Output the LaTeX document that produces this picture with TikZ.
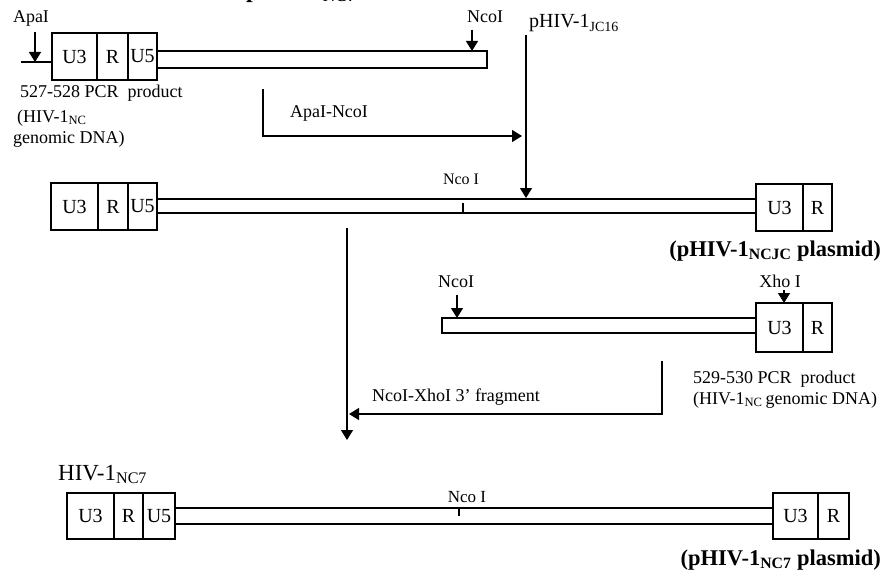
\documentclass[tikz,border=0pt]{standalone}
\usepackage{fontspec}
\setmainfont{Liberation Serif}
\usetikzlibrary{arrows.meta}
\tikzset{
  ln/.style={line width=1.4pt},
  tip/.style={ln,-{Triangle[width=12pt,length=10pt]}},
  cell/.style={draw,line width=1.4pt,inner sep=0pt,font=\fontsize{20}{22}\selectfont,minimum height=47pt},
  bar/.style={draw,line width=1.4pt,inner sep=0pt},
  lbl/.style={inner sep=0pt,font=\fontsize{18}{20}\selectfont},
  slbl/.style={inner sep=0pt,font=\fontsize{16}{18}\selectfont},
  big/.style={inner sep=0pt,font=\fontsize{20}{22}\selectfont},
  bigb/.style={inner sep=0pt,font=\fontsize{22.5}{25}\selectfont\bfseries}
}
\begin{document}
\begin{tikzpicture}[x=1pt,y=-1pt]
\useasboundingbox (0,0) rectangle (882,578);
% cut-off title at top edge
\node[inner sep=0pt,font=\fontsize{24}{26}\selectfont\bfseries,anchor=base west] (title) at (246,-2) {pHIV-1\textsubscript{NC7}};

% ---------- row 1: 527-528 PCR product ----------
\node[cell,minimum width=45pt] (a3) at (74.5,56.5) {U3};
\node[cell,minimum width=31pt] (ar) at (112.5,56.5) {R};
\node[cell,minimum width=29pt] (a5) at (142.5,56.5) {U5};
\node[bar,minimum width=330pt,minimum height=17pt] (abar) at (322,59.5) {};
\coordinate (astub) at (21,62);
\coordinate (aend) at (52,62);
\draw[ln] (astub) -- (aend);
\node[lbl] (apai) at (31,18) {ApaI};
\coordinate (apaitop) at (35,32);
\coordinate (apaitip) at (35,62);
\draw[tip] (apaitop) -- (apaitip);
\node[lbl] (nco1) at (485,17) {NcoI};
\coordinate (nco1top) at (472,30);
\coordinate (nco1tip) at (472,51);
\draw[tip] (nco1top) -- (nco1tip);
\node[lbl,anchor=base west] (pcr1) at (20,97) {527-528 PCR\ \ product};
\node[lbl,anchor=base west] (hiv1) at (17,122) {(HIV-1\textsubscript{NC}};
\node[lbl,anchor=base west] (gen1) at (13,143) {genomic DNA)};

% ApaI-NcoI arrow
\coordinate (an1) at (263,89);
\coordinate (an2) at (263,136);
\coordinate (an3) at (522,136);
\draw[tip] (an1) -- (an2) -- (an3);
\node[lbl] (apanco) at (329,113) {ApaI-NcoI};

% pHIV-1 JC16
\node[big,anchor=base west] (jc16) at (529,28) {pHIV-1\textsubscript{JC16}};
\coordinate (jctop) at (526,35);
\coordinate (jctip) at (526,198);
\draw[tip] (jctop) -- (jctip);

% ---------- row 2: pHIV-1 NCJC ----------
\node[cell,minimum width=47pt] (b3) at (74.5,206.5) {U3};
\node[cell,minimum width=30pt] (br) at (113,206.5) {R};
\node[cell,minimum width=29pt] (b5) at (142.5,206.5) {U5};
\node[bar,minimum width=599pt,minimum height=14pt] (bbar) at (456.5,206) {};
\node[cell,minimum width=47pt] (bu3) at (779.5,207.5) {U3};
\node[cell,minimum width=29pt] (bur) at (817.5,207.5) {R};
\node[slbl] (ncob) at (461,179) {Nco I};
\coordinate (tickb1) at (463,203);
\coordinate (tickb2) at (463,213);
\draw[ln] (tickb1) -- (tickb2);
\node[bigb,anchor=base east] (ncjc) at (881,256) {(pHIV-1\textsubscript{NCJC} plasmid)};

% down arrow to final
\coordinate (d1) at (347,228);
\coordinate (d2) at (347,440);
\draw[tip] (d1) -- (d2);

% ---------- row 3: 529-530 PCR product ----------
\node[bar,minimum width=314pt,minimum height=15pt] (cbar) at (599,325.5) {};
\node[cell,minimum width=47pt,minimum height=49pt] (cu3) at (779.5,327.5) {U3};
\node[cell,minimum width=29pt,minimum height=49pt] (cur) at (817.5,327.5) {R};
\node[lbl] (ncoc) at (456,282) {NcoI};
\coordinate (ncoctop) at (457,295);
\coordinate (ncoctip) at (457,318);
\draw[tip] (ncoctop) -- (ncoctip);
\node[lbl] (xho) at (780,281) {Xho I};
\coordinate (xhotop) at (784,290);
\coordinate (xhotip) at (784,303);
\draw[tip] (xhotop) -- (xhotip);
\node[lbl,anchor=base west] (pcr2) at (693,383) {529-530 PCR\ \ product};
\node[lbl,anchor=base west] (gen2) at (693,404) {(HIV-1\textsubscript{NC}\,genomic DNA)};

% NcoI-XhoI arrow
\coordinate (f1) at (662,361);
\coordinate (f2) at (662,414);
\coordinate (f3) at (349,414);
\draw[tip] (f1) -- (f2) -- (f3);
\node[lbl] (frag) at (456,397) {NcoI-XhoI 3’ fragment};

% ---------- row 4: HIV-1 NC7 ----------
\node[big,font=\fontsize{23}{25}\selectfont,anchor=base west] (nc7) at (58,480) {HIV-1\textsubscript{NC7}};
\node[cell,minimum width=47pt,minimum height=46pt] (d3) at (90.5,516) {U3};
\node[cell,minimum width=29pt,minimum height=46pt] (dr) at (128.5,516) {R};
\node[cell,minimum width=32pt,minimum height=46pt] (d5) at (159,516) {U5};
\node[bar,minimum width=598pt,minimum height=16pt] (dbar) at (474,516) {};
\node[cell,minimum width=45pt,minimum height=46pt] (du3) at (795.5,516) {U3};
\node[cell,minimum width=31pt,minimum height=46pt] (dur) at (833.5,516) {R};
\node[lbl,font=\fontsize{17}{19}\selectfont] (ncod) at (467,497) {Nco I};
\coordinate (tickd1) at (459,508);
\coordinate (tickd2) at (459,516);
\draw[ln] (tickd1) -- (tickd2);
\node[bigb,anchor=base east] (pnc7) at (881,565) {(pHIV-1\textsubscript{NC7} plasmid)};
\end{tikzpicture}
\end{document}
